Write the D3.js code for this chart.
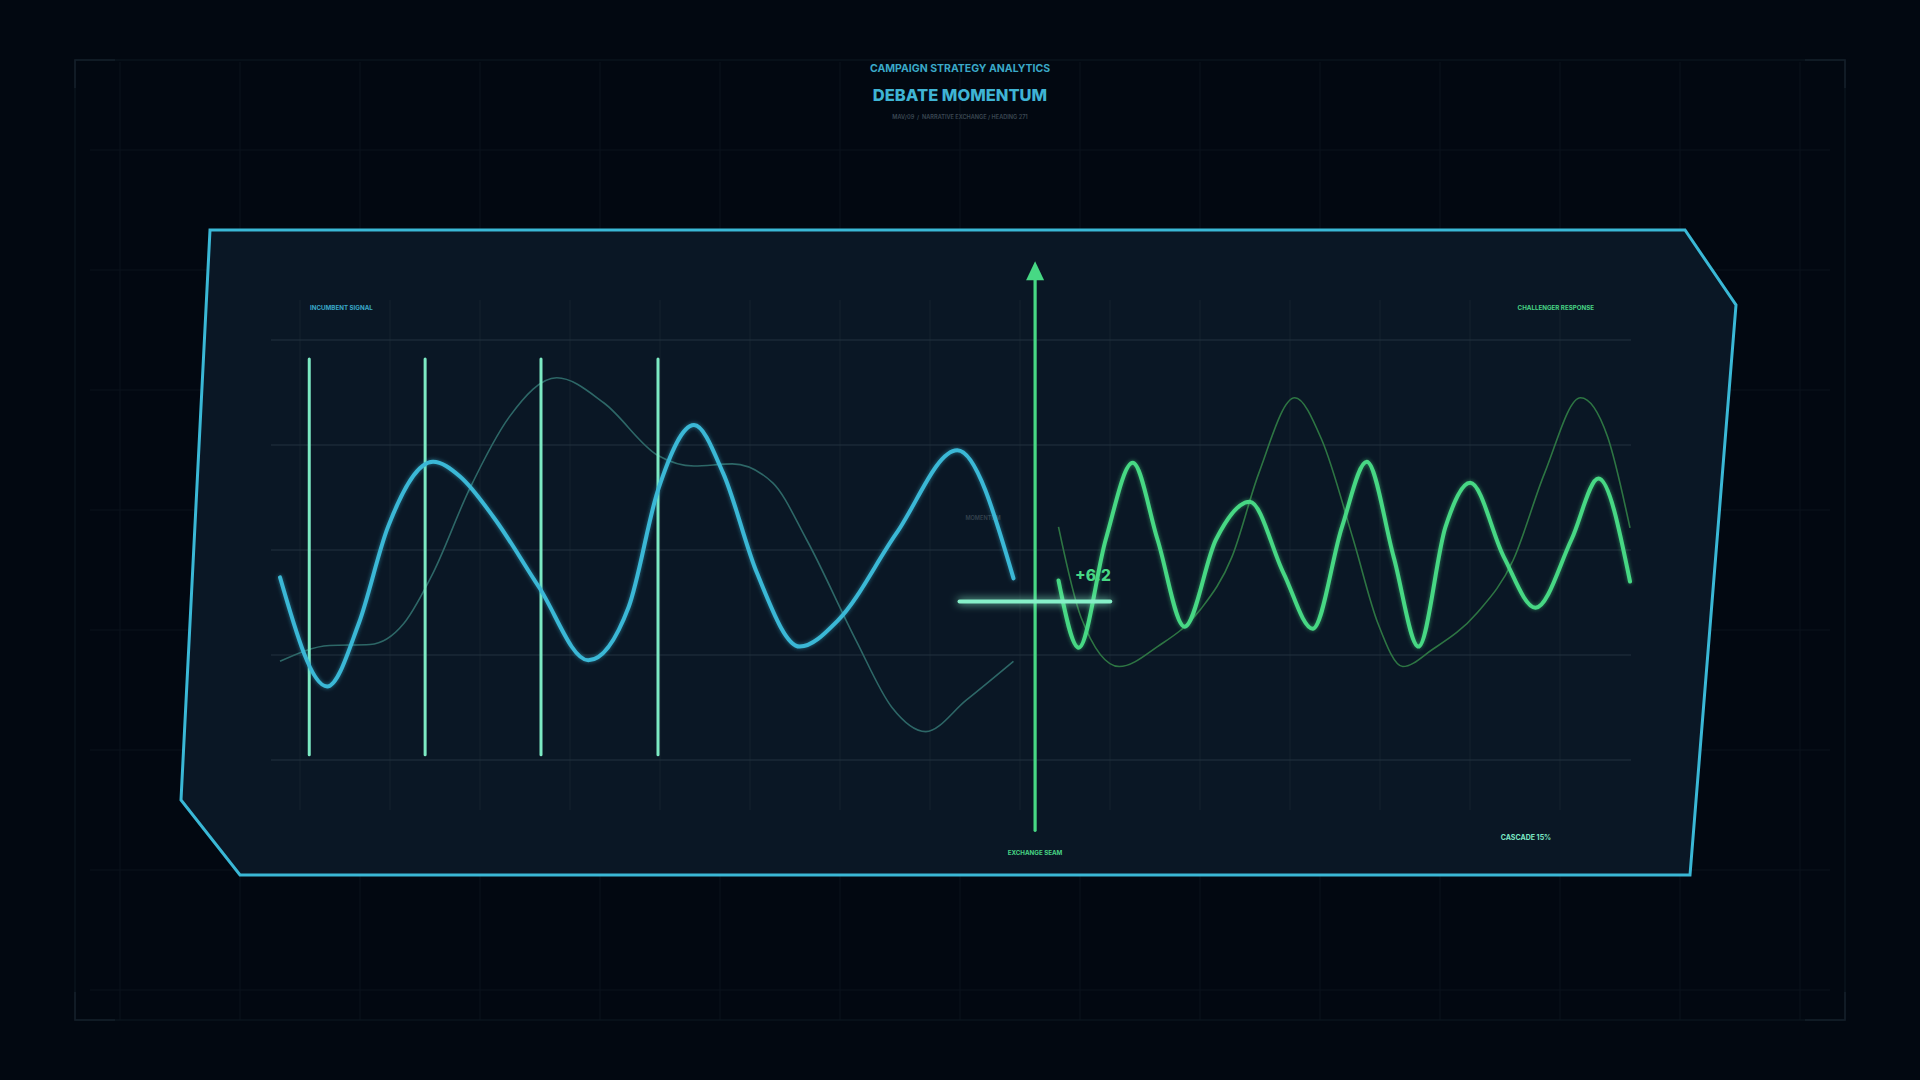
<!DOCTYPE html>
<html><head><meta charset="utf-8">
<script src="https://cdn.jsdelivr.net/npm/d3@7/dist/d3.min.js"></script>
<style>
html,body{margin:0;padding:0;background:#020811;overflow:hidden;}
svg{display:block;}
</style></head><body>
<svg id="c" width="1920" height="1080"></svg>
<script>
// ---------- DATA ----------
const titleTop = "CAMPAIGN STRATEGY ANALYTICS";
const titleMain = "DEBATE MOMENTUM";
const subtitle = "MAV/09  /  NARRATIVE EXCHANGE / HEADING 271";
const leftLabel = "INCUMBENT SIGNAL";
const rightLabel = "CHALLENGER RESPONSE";
const seamLabel = "EXCHANGE SEAM";
const cascadeLabel = "CASCADE 15%";
const momentumLabel = "MOMENTUM";
const deltaLabel = "+6.2";

// incumbent signal (thick)
const incumbentT = [0, 2.1, 3.5, 4.8, 6.8, 8.0, 9.5, 11.5, 13.7, 15.5, 16.8, 18.4, 19.7, 21.2, 23.1, 24.8, 27.4, 30.1, 32.6];
const incumbentV = [-2.6, -13.0, -7.0, 2.2, 8.4, 7.0, 3.1, -3.5, -10.5, -5.4, 5.7, 11.9, 7.3, -2.2, -9.2, -6.7, 1.6, 9.5, -2.7];
// incumbent trend (thin)
const incTrendT = [0, 2.2, 4.0, 5.5, 6.8, 8.4, 10.2, 12.3, 14.4, 16.8, 18.4, 20.1, 21.9, 23.4, 25.6, 27.2, 28.7, 30.5, 32.6];
const incTrendV = [-10.6, -9.1, -9.0, -7.0, -2.2, 5.7, 12.7, 16.4, 14.0, 9.0, 8.0, 8.2, 6.4, 1.0, -8.6, -15.0, -17.3, -14.3, -10.6];
// challenger response (thick)
const challengerT = [34.6, 35.5, 36.7, 37.9, 39.0, 40.2, 41.6, 43.1, 44.6, 45.9, 47.2, 48.3, 49.5, 50.6, 51.8, 52.9, 54.4, 55.8, 57.4, 58.6, 60.0];
const challengerV = [-2.9, -9.3, 1.0, 8.3, 1.0, -7.3, 1.0, 4.6, -2.2, -7.5, 2.2, 8.4, -0.7, -9.2, 2.2, 6.4, -0.7, -5.5, 1.0, 6.8, -3.0];
// challenger trend (thin)
const chalTrendT = [34.6, 35.6, 37.3, 39.0, 40.9, 42.3, 43.5, 45.1, 46.3, 47.7, 48.8, 49.9, 51.2, 53.2, 54.8, 56.2, 57.8, 59.0, 60.0];
const chalTrendV = [2.2, -6.4, -11.1, -9.2, -5.7, -0.7, 7.3, 14.5, 10.5, 1.0, -7.0, -11.1, -9.5, -6.0, -1.0, 7.3, 14.5, 10.8, 2.1];
// event markers (vertical bars)
const eventT = [1.3, 6.45, 11.6, 16.8];
const eventRange = [-19.5, 18.2];
// exchange seam
const seamT = 33.56;
const seamRange = [-26.7, 27.5];
// momentum crossbar
const crossV = -4.9;
const crossRange = [30.2, 36.9];
// value grid
const yTicks = [-20, -10, 0, 10, 20];

// ---------- LAYOUT ----------
const svg = d3.select("#c");
const x = d3.scaleLinear().domain([0, 60]).range([280, 1630]);
const y = d3.scaleLinear().domain([-20, 20]).range([760, 340]);

const defs = svg.append("defs");
const glow = defs.append("filter").attr("id", "glow").attr("x", "-20%").attr("y", "-20%").attr("width", "140%").attr("height", "140%");
glow.append("feGaussianBlur").attr("stdDeviation", 2.2).attr("result", "b");
glow.append("feComponentTransfer").attr("in", "b").attr("result", "bf")
  .append("feFuncA").attr("type", "linear").attr("slope", 0.55);
const fm = glow.append("feMerge");
fm.append("feMergeNode").attr("in", "bf");
fm.append("feMergeNode").attr("in", "SourceGraphic");
const glow2 = defs.append("filter").attr("id", "glow2").attr("filterUnits", "userSpaceOnUse")
  .attr("x", 900).attr("y", 570).attr("width", 260).attr("height", 64);
glow2.append("feGaussianBlur").attr("stdDeviation", 4).attr("result", "b");
const fm2 = glow2.append("feMerge");
fm2.append("feMergeNode").attr("in", "b");
fm2.append("feMergeNode").attr("in", "SourceGraphic");

// background
svg.append("rect").attr("width", 1920).attr("height", 1080).attr("fill", "#020811");

// outer decorative grid
const bg = svg.append("g");
d3.range(120, 1801, 120).forEach(gx => {
  bg.append("line").attr("x1", gx).attr("x2", gx).attr("y1", 62).attr("y2", 1020)
    .attr("stroke", "#0a121c").attr("stroke-width", 1);
});
d3.range(150, 1051, 120).forEach(gy => {
  bg.append("line").attr("x1", 90).attr("x2", 1830).attr("y1", gy).attr("y2", gy)
    .attr("stroke", "#0a121c").attr("stroke-width", 1);
});
bg.append("rect").attr("x", 75).attr("y", 60).attr("width", 1770).attr("height", 960)
  .attr("fill", "none").attr("stroke", "#0c1620").attr("stroke-width", 1.2);
const corners = [[75, 60, 1, 1], [1845, 60, -1, 1], [75, 1020, 1, -1], [1845, 1020, -1, -1]];
corners.forEach(([cx, cy, dx, dy]) => {
  bg.append("path").attr("d", `M${cx},${cy + dy * 28}L${cx},${cy}L${cx + dx * 40},${cy}`)
    .attr("fill", "none").attr("stroke", "#141f2a").attr("stroke-width", 1.6);
});

// titles
svg.append("text").attr("x", 960).attr("y", 72).attr("text-anchor", "middle")
  .attr("font-family", "Inter, 'Open Sans', sans-serif").attr("font-weight", 700)
  .attr("font-size", 10.5).attr("fill", "#3aa9c8").text(titleTop);
svg.append("text").attr("x", 960).attr("y", 101).attr("text-anchor", "middle")
  .attr("font-family", "Inter, 'Open Sans', sans-serif").attr("font-weight", 800)
  .attr("font-size", 16.5).attr("fill", "#3fb4d4").text(titleMain);
svg.append("text").attr("x", 960).attr("y", 119).attr("text-anchor", "middle")
  .attr("font-family", "Inter, 'Open Sans', sans-serif").attr("font-weight", 600)
  .attr("font-size", 5.6).attr("fill", "#3c4854").style("white-space", "pre").text(subtitle);

// panel
const panelPts = [[210, 230], [1685, 230], [1736, 305], [1690, 875], [240, 875], [181, 800]];
svg.append("polygon").attr("points", panelPts.map(p => p.join(",")).join(" "))
  .attr("fill", "#0a1725").attr("stroke", "#3ab8d6").attr("stroke-width", 3)
  .attr("stroke-linejoin", "miter");

// inner grid
const gx = d3.scaleLinear().domain([0, 14]).range([300, 1560]);
const grid = svg.append("g");
d3.range(0, 15).forEach(i => {
  grid.append("line").attr("x1", gx(i)).attr("x2", gx(i)).attr("y1", 300).attr("y2", 810)
    .attr("stroke", "#15232f").attr("stroke-width", 1);
});
yTicks.forEach(v => {
  grid.append("line").attr("x1", 271).attr("x2", 1631).attr("y1", y(v)).attr("y2", y(v))
    .attr("stroke", "#223340").attr("stroke-width", 1.2);
});

// labels
const lab = (t, px, py, anchor, fill, size) => svg.append("text").attr("x", px).attr("y", py)
  .attr("text-anchor", anchor).attr("font-family", "Inter, 'Open Sans', sans-serif")
  .attr("font-weight", 700).attr("font-size", size).attr("fill", fill).text(t);
lab(leftLabel, 310, 310, "start", "#3aa9c8", 6.2);
lab(rightLabel, 1594, 310, "end", "#47d384", 6.2);
lab(seamLabel, x(seamT), 855, "middle", "#47d384", 6.2);
lab(cascadeLabel, 1526, 840, "middle", "#7ce8c4", 7);
lab(momentumLabel, 983, 520, "middle", "#34424e", 5.6).attr("font-weight", 600);

// lines
const line = d3.line().x(d => x(d[0])).y(d => y(d[1])).curve(d3.curveMonotoneX);
const zip = (a, b) => a.map((v, i) => [v, b[i]]);

svg.append("path").datum(zip(incTrendT, incTrendV)).attr("d", line)
  .attr("fill", "none").attr("stroke", "#2f6b6a").attr("stroke-width", 1.6).attr("opacity", 0.95);
svg.append("path").datum(zip(chalTrendT, chalTrendV)).attr("d", line)
  .attr("fill", "none").attr("stroke", "#2f7a45").attr("stroke-width", 1.6).attr("opacity", 0.95);

// event bars
svg.append("g").selectAll("line").data(eventT).join("line")
  .attr("x1", d => x(d)).attr("x2", d => x(d)).attr("y1", y(eventRange[1])).attr("y2", y(eventRange[0]))
  .attr("stroke", "#7ceac3").attr("stroke-width", 3).attr("stroke-linecap", "round");

svg.append("path").datum(zip(incumbentT, incumbentV)).attr("d", line)
  .attr("fill", "none").attr("stroke", "#3ab8d6").attr("stroke-width", 4)
  .attr("stroke-linecap", "round").attr("filter", "url(#glow)");
svg.append("path").datum(zip(challengerT, challengerV)).attr("d", line)
  .attr("fill", "none").attr("stroke", "#47d884").attr("stroke-width", 4)
  .attr("stroke-linecap", "round").attr("filter", "url(#glow)");

// seam axis
svg.append("line").attr("x1", x(seamT)).attr("x2", x(seamT))
  .attr("y1", y(seamRange[1]) + 16).attr("y2", y(seamRange[0]))
  .attr("stroke", "#47d884").attr("stroke-width", 3.2).attr("stroke-linecap", "round");
svg.append("path")
  .attr("d", `M${x(seamT)},${y(seamRange[1])}L${x(seamT) - 9},${y(seamRange[1]) + 19}L${x(seamT) + 9},${y(seamRange[1]) + 19}Z`)
  .attr("fill", "#47d884");

// crossbar
svg.append("line").attr("x1", x(crossRange[0])).attr("x2", x(crossRange[1]))
  .attr("y1", y(crossV)).attr("y2", y(crossV))
  .attr("stroke", "#86f0c8").attr("stroke-width", 4).attr("stroke-linecap", "round")
  .attr("filter", "url(#glow2)");

svg.append("text").attr("x", 1075).attr("y", 581)
  .attr("font-family", "Inter, 'Open Sans', sans-serif").attr("font-weight", 800)
  .attr("font-size", 15.5).attr("fill", "#47d884").text(deltaLabel);
</script>
</body></html>
